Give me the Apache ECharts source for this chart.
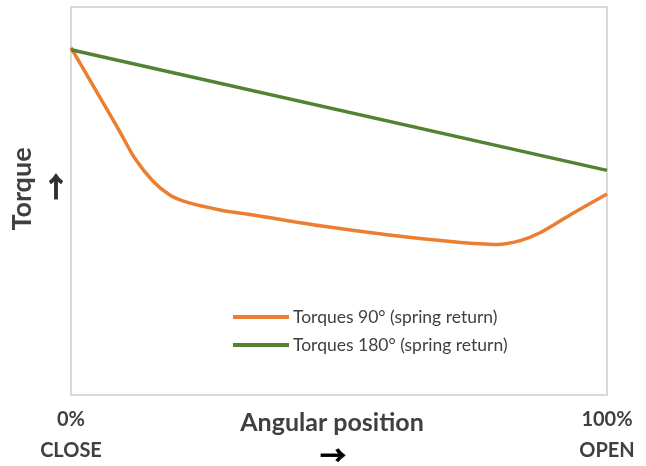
<!DOCTYPE html>
<html>
<head>
<meta charset="utf-8">
<script src="https://cdn.jsdelivr.net/npm/echarts@6/dist/echarts.min.js"></script>
<style>html,body{margin:0;padding:0;background:#fff;}#c{width:646px;height:466px;}</style>
</head>
<body>
<div id="c"></div>
<script>
// Angular position (% from CLOSE to OPEN)
const posOrange = [0, 5.4, 9.1, 11.9, 15.3, 18.5, 21.6, 27.8, 34.0, 46.5, 59.0, 71.3, 79.5, 83.8, 87.5, 93.1, 100];
const torque90 = [89.5, 76.7, 67.9, 61.0, 55.1, 51.5, 49.7, 47.7, 46.4, 43.6, 41.3, 39.5, 38.8, 39.8, 41.8, 46.4, 51.8];
const posGreen = [0, 100];
const torque180 = [89.0, 57.9];
const seriesNames = ['Torques 90° (spring return)', 'Torques 180° (spring return)'];
const xTickLabels = {0: '0%\nCLOSE', 100: '100%\nOPEN'};
const xTitle = 'Angular position';
const yTitle = 'Torque';

const font = 'Lato, "Open Sans", sans-serif';
const chart = echarts.init(document.getElementById('c'));
chart.setOption({
  animation: false,
  grid: {left: 71, right: 39, top: 7, bottom: 67, show: true, borderColor: '#d9d9d9', borderWidth: 2},
  xAxis: {
    type: 'value', min: 0, max: 100, interval: 100,
    axisLine: {show: false}, axisTick: {show: false}, splitLine: {show: false},
    axisLabel: {
      margin: 9, fontFamily: font, fontSize: 20, fontWeight: 'bold', color: '#404040', lineHeight: 31,
      formatter: v => xTickLabels[v] || ''
    }
  },
  yAxis: {
    type: 'value', min: 0, max: 100,
    axisLine: {show: false}, axisTick: {show: false}, splitLine: {show: false}, axisLabel: {show: false}
  },
  legend: {
    orient: 'vertical', left: 228, top: 303, itemGap: 10,
    itemWidth: 56, itemHeight: 4, icon: 'rect',
    textStyle: {fontFamily: font, fontSize: 17.5, color: '#404040', padding: [0, 0, 0, -1]},
    data: seriesNames
  },
  series: [
    {name: seriesNames[0], type: 'line', data: posOrange.map((x, i) => [x, torque90[i]]),
     smooth: 0.3, showSymbol: false, lineStyle: {color: '#ED7D31', width: 3.5}, itemStyle: {color: '#ED7D31'}},
    {name: seriesNames[1], type: 'line', data: posGreen.map((x, i) => [x, torque180[i]]),
     showSymbol: false, lineStyle: {color: '#548235', width: 3.5}, itemStyle: {color: '#548235'}}
  ],
  graphic: [
    {type: 'text', x: 332, y: 423, style: {text: xTitle, font: 'bold 25px ' + font, fill: '#404040', align: 'center', verticalAlign: 'middle'}},
    {type: 'text', x: 333, y: 455, style: {text: '→', font: 'bold 26px "Noto Sans CJK SC"', fill: '#000', stroke: '#000', lineWidth: 0.8, align: 'center', verticalAlign: 'middle'}},
    {type: 'text', x: 22, y: 189, rotation: Math.PI / 2, style: {text: yTitle, font: 'bold 27px ' + font, fill: '#404040', align: 'center', verticalAlign: 'middle'}},
    {type: 'text', x: 56, y: 187, style: {text: '↑', font: 'bold 27px "Noto Sans CJK SC"', fill: '#303030', stroke: '#303030', lineWidth: 1, align: 'center', verticalAlign: 'middle'}}
  ]
});
</script>
</body>
</html>
